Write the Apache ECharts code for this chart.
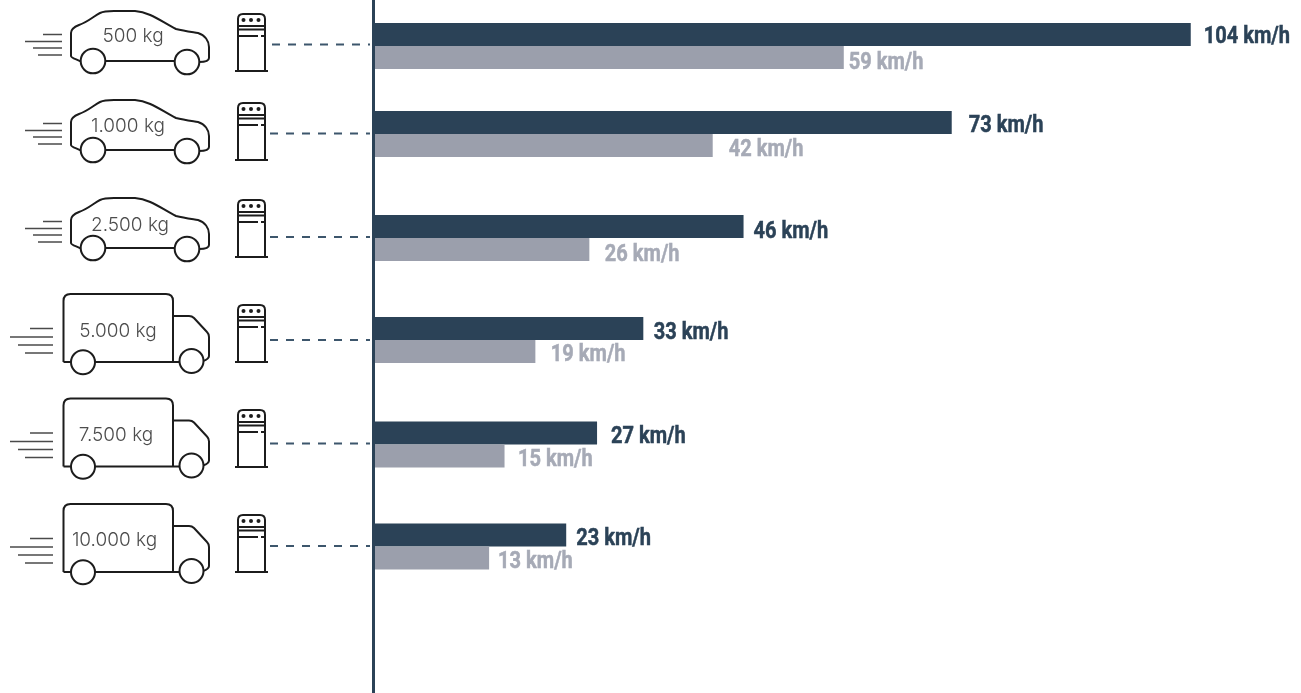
<!DOCTYPE html>
<html><head><meta charset="utf-8">
<style>html,body{margin:0;padding:0;background:#fff}#c{width:1301px;height:693px}</style>
<script src="https://cdn.jsdelivr.net/npm/echarts@6/dist/echarts.min.js"></script>
</head><body><div id="c"></div>
<script>
const categories = ['500 kg','1.000 kg','2.500 kg','5.000 kg','7.500 kg','10.000 kg'];
const speedDark = [104,73,46,33,27,23];
const speedGrey = [59,42,26,19,15,13];
const vehicleKinds = ['car','car','car','truck','truck','truck'];

// layout, in pixels
const rowCentre = [46,134,238,340,444.5,546.5];
const vehicleDy = [0,89,187,0,104.5,210];
const chargerTop = [14,103,200,305,410,515];
const dashY = [44.5,133.5,237,340,443.5,546];
const dashX0 = [272,270,270,270,270,270];
const labelX = [133,128,130,118,116,114.5];
const labelY = [36,126,225,331,435,540];
const darkDx = [13,17,10,10.5,14,10], darkDy = [-9.5,-8.5,-6.5,-7.5,-8,-8];
const greyDx = [5,16,15.5,15.5,13.5,9], greyDy = [16.5,15.5,16.5,14.5,15,15];

const DARK='#2b4257', GREY='#9b9fac', GREYTXT='#a6aab6', INK='#1c1c1c', LINES='#4a4a4a';
const CAR='M71 33 C71 29 74 27 79 25 C88 22 94 16 100 13 C104 11 108 11 114 11 L135 11 C150 12 162 22 176 29 C184 31 192 32 198 33 C205 35 209 41 209 47 L209 58 C209 61 205 62 199 62 M71 33 L71 56 C71 58 76 59 81 61.5 M106 61 L175 61';
const TRUCK='M63.5 362 L63.5 301 Q63.5 294 70.5 294 L166 294 Q173 294 173 301 L173 362 M63.5 362 L71 362 M95 362 L179 362 M173 316 L189 316 Q192 316 194 318 L207 332 Q209 334 209 337 L209 356 Q209 359 203 361';
const CH='M238 71 L238 19 Q238 14 243 14 L260 14 Q265 14 265 19 L265 71 M235 71 L268 71 M238 26 L265 26 M238 29.5 L265 29.5 M238 36 L258 36 M261 36 L265 36';
echarts.graphic.registerShape('carBody',echarts.graphic.extendPath(CAR));
echarts.graphic.registerShape('truckBody',echarts.graphic.extendPath(TRUCK));
echarts.graphic.registerShape('chargerBody',echarts.graphic.extendPath(CH));

const graphic=[];
const LW=2;
function stroke(type,x,y){return {type:type,x:x,y:y,style:{fill:null,stroke:INK,lineWidth:LW},silent:true};}
function line(x1,y1,x2,y2,c,w,dash){return {type:'line',shape:{x1,y1,x2,y2},style:{stroke:c,lineWidth:w,lineDash:dash||null},silent:true};}
function circ(cx,cy,r,fill){return {type:'circle',shape:{cx,cy,r},style:{fill:fill?INK:'#fff',stroke:fill?null:INK,lineWidth:LW},silent:true,z:5};}

categories.forEach((c,i)=>{
  const dy=vehicleDy[i];
  if(vehicleKinds[i]==='car'){
    graphic.push(stroke('carBody',0,dy));
    graphic.push(circ(93,61+dy,12.3),circ(187,62+dy,12.3));
    [[43,34.5],[25,41.5],[33,48],[38,55]].forEach(p=>graphic.push(line(p[0],p[1]+dy,62,p[1]+dy,LINES,1.5)));
  } else {
    graphic.push(stroke('truckBody',0,dy));
    graphic.push(circ(83,362.3+dy,12),circ(191.5,361+dy,12));
    [[30,328.5],[10,337],[18,345],[25,353]].forEach(p=>graphic.push(line(p[0],p[1]+dy,53,p[1]+dy,LINES,1.5)));
  }
  const t=chargerTop[i]-14;
  graphic.push(stroke('chargerBody',0,t));
  [243.5,251,258.5].forEach(x=>graphic.push(circ(x,20+t,2,true)));
  graphic.push(line(dashX0[i],dashY[i],370,dashY[i],'#3d566c',2,[8,8]));
  graphic.push({type:'text',x:labelX[i],y:labelY[i],z:6,silent:true,
    style:{text:c,fontFamily:'Inter',fontWeight:300,fontSize:19,fill:'#4d4d4d',align:'center',verticalAlign:'middle'}});
});
graphic.push({type:'rect',shape:{x:372,y:0,width:3,height:693},style:{fill:DARK},silent:true,z:10});

const grids=[],xAxes=[],yAxes=[],series=[];
const AXMIN=-1.8, AXMAX=118.3;
function valueLabel(i,color,dx,dy){
  return {type:'custom',xAxisIndex:i,yAxisIndex:i,silent:true,clip:false,
    encode:{x:0,y:1},
    data:[[ (color===DARK?speedDark:speedGrey)[i], categories[i] ]],
    renderItem:(params,api)=>{
      const v=api.value(0), p=api.coord([v,0]), col=color===DARK?DARK:GREYTXT;
      return {type:'text',x:p[0]+dx[i],y:p[1]+dy[i],scaleX:0.835,
        style:{text:v+' km/h',fontFamily:'Roboto',fontWeight:'bold',fontSize:24,fill:col,stroke:col,lineWidth:0.5,align:'left',verticalAlign:'middle'}};
    }};
}
categories.forEach((c,i)=>{
  grids.push({left:375,right:0,top:rowCentre[i]-23,height:46});
  xAxes.push({type:'value',gridIndex:i,min:AXMIN,max:AXMAX,startValue:AXMIN,show:false});
  yAxes.push({type:'category',gridIndex:i,data:[c],inverse:true,show:false});
  series.push({type:'bar',name:'dark',xAxisIndex:i,yAxisIndex:i,data:[speedDark[i]],barWidth:23,barGap:'0%',itemStyle:{color:DARK},silent:true});
  series.push({type:'bar',name:'grey',xAxisIndex:i,yAxisIndex:i,data:[speedGrey[i]],barWidth:23,barGap:'0%',itemStyle:{color:GREY},silent:true});
  series.push(valueLabel(i,DARK,darkDx,darkDy));
  series.push(valueLabel(i,GREY,greyDx,greyDy));
});
const chart=echarts.init(document.getElementById('c'),null,{renderer:'canvas'});
chart.setOption({animation:false,backgroundColor:'#fff',grid:grids,xAxis:xAxes,yAxis:yAxes,series:series,graphic:graphic});
</script></body></html>
